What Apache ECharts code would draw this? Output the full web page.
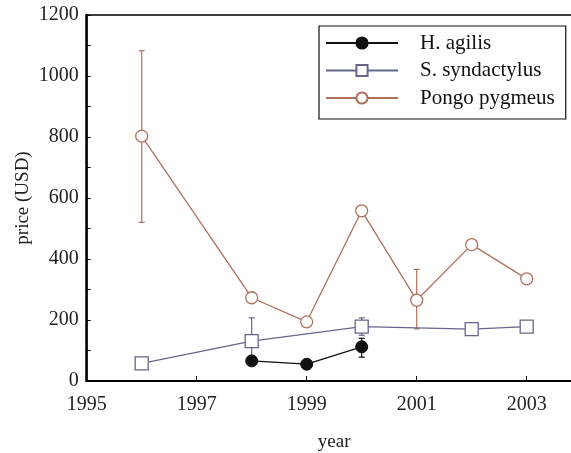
<!DOCTYPE html>
<html>
<head>
<meta charset="utf-8">
<script src="https://cdn.jsdelivr.net/npm/echarts@6/dist/echarts.min.js"></script>
<style>
  html, body { margin: 0; padding: 0; background: #fff; }
  #chart { width: 571px; height: 453px; }
</style>
</head>
<body>
<div id="chart"></div>
<script>
// values
const xTicks = [1995, 1997, 1999, 2001, 2003]
const yTicks = [0, 200, 400, 600, 800, 1000, 1200]

const agilis = [[1998, 66], [1999, 55], [2000, 112]]
const syndactylus = [[1996, 58], [1998, 131], [2000, 178], [2002, 170], [2003, 178]]
const pongo = [[1996, 803], [1998, 273], [1999, 194], [2000, 558], [2001, 265], [2002, 447], [2003, 335]]

// error bars: [year, low, high]
const agilisErr = [[2000, 78, 140]]
const syndactylusErr = [[1998, 55, 207], [2000, 150, 207]]
const pongoErr = [[1996, 520, 1083], [2001, 171, 366]]

const cBlack = '#111111'
const cBlue = '#66668c'
const cPongo = '#b0705e'
const font = 'Liberation Serif'

const chart = echarts.init(document.getElementById('chart'))

// 误差线
function errSeries(data, color) {
  return {
    type: 'custom',
    silent: true,
    z: 1,
    encode: { x: 0, y: [1, 2] },
    data: data,
    renderItem(params, api) {
      const lo = api.coord([api.value(0), api.value(1)])
      const hi = api.coord([api.value(0), api.value(2)])
      const w = 3
      const style = { stroke: color, lineWidth: 1.2 }
      return {
        type: 'group',
        children: [
          { type: 'line', shape: { x1: lo[0], y1: lo[1], x2: hi[0], y2: hi[1] }, style },
          { type: 'line', shape: { x1: hi[0] - w, y1: hi[1], x2: hi[0] + w, y2: hi[1] }, style },
          { type: 'line', shape: { x1: lo[0] - w, y1: lo[1], x2: lo[0] + w, y2: lo[1] }, style },
        ],
      }
    },
  }
}

const option = {
  backgroundColor: '#fff',
  animation: false,
  textStyle: { fontFamily: font },
  grid: {
    left: 86.7,
    top: 15,
    bottom: 72,
    right: -10.7,
    outerBoundsMode: 'none',
    containLabel: false,
    show: true,
    borderColor: '#000',
    borderWidth: 1.5,
  },
  legend: {
    orient: 'vertical',
    left: 319,
    top: 26,
    padding: [6, 11, 10, 6],
    itemWidth: 72,
    itemHeight: 14,
    itemGap: 5.5,
    borderColor: '#111',
    borderWidth: 1.2,
    backgroundColor: '#fff',
    textStyle: {
      fontFamily: font,
      fontSize: 21,
      color: '#111',
      lineHeight: 22,
      padding: [0, 0, 0, 17],
    },
    data: ['H. agilis', 'S. syndactylus', 'Pongo pygmeus'],
  },
  xAxis: {
    type: 'value',
    min: 1995,
    max: 2004,
    interval: 2,
    name: 'year',
    nameLocation: 'middle',
    nameGap: 52,
    nameMoveOverlap: false,
    nameTextStyle: { fontFamily: font, fontSize: 19, color: '#222' },
    axisLine: { show: true, lineStyle: { color: '#000', width: 2 } },
    axisTick: { show: true, inside: true, length: 5, lineStyle: { color: '#000' } },
    axisLabel: {
      fontFamily: font,
      fontSize: 20,
      color: '#222',
      margin: 14,
      showMaxLabel: false,
      formatter: (v) => (xTicks.includes(v) ? String(v) : ''),
    },
    splitLine: { show: false },
  },
  yAxis: {
    type: 'value',
    min: 0,
    max: 1200,
    interval: 200,
    name: 'price (USD)',
    nameLocation: 'middle',
    nameGap: 54,
    nameMoveOverlap: false,
    nameTextStyle: { fontFamily: font, fontSize: 19, color: '#222' },
    axisLine: { show: true, lineStyle: { color: '#000', width: 2.5 } },
    axisTick: { show: true, inside: true, length: 4, lineStyle: { color: '#000' } },
    minorTick: { show: true, splitNumber: 2, length: 4, lineStyle: { color: '#000' } },
    axisLabel: {
      fontFamily: font,
      fontSize: 20,
      color: '#222',
      margin: 8,
      formatter: (v) => (yTicks.includes(v) ? String(v) : ''),
    },
    splitLine: { show: false },
  },
  series: [
    errSeries(pongoErr, cPongo),
    errSeries(syndactylusErr, cBlue),
    errSeries(agilisErr, cBlack),
    {
      name: 'Pongo pygmeus',
      type: 'line',
      data: pongo,
      symbol: 'circle',
      symbolSize: 12,
      z: 3,
      lineStyle: { color: cPongo, width: 1.3 },
      itemStyle: { color: '#fff', borderColor: cPongo, borderWidth: 1.3 },
    },
    {
      name: 'S. syndactylus',
      type: 'line',
      data: syndactylus,
      symbol: 'rect',
      symbolSize: 13,
      z: 4,
      lineStyle: { color: cBlue, width: 1.3 },
      itemStyle: { color: '#fff', borderColor: cBlue, borderWidth: 1.3 },
    },
    {
      name: 'H. agilis',
      type: 'line',
      data: agilis,
      symbol: 'circle',
      symbolSize: 12,
      z: 5,
      lineStyle: { color: cBlack, width: 1.3 },
      itemStyle: { color: cBlack, borderColor: cBlack, borderWidth: 1 },
    },
  ],
}

chart.setOption(option)
window.addEventListener('resize', () => {
  chart.resize()
})
</script>
</body>
</html>
